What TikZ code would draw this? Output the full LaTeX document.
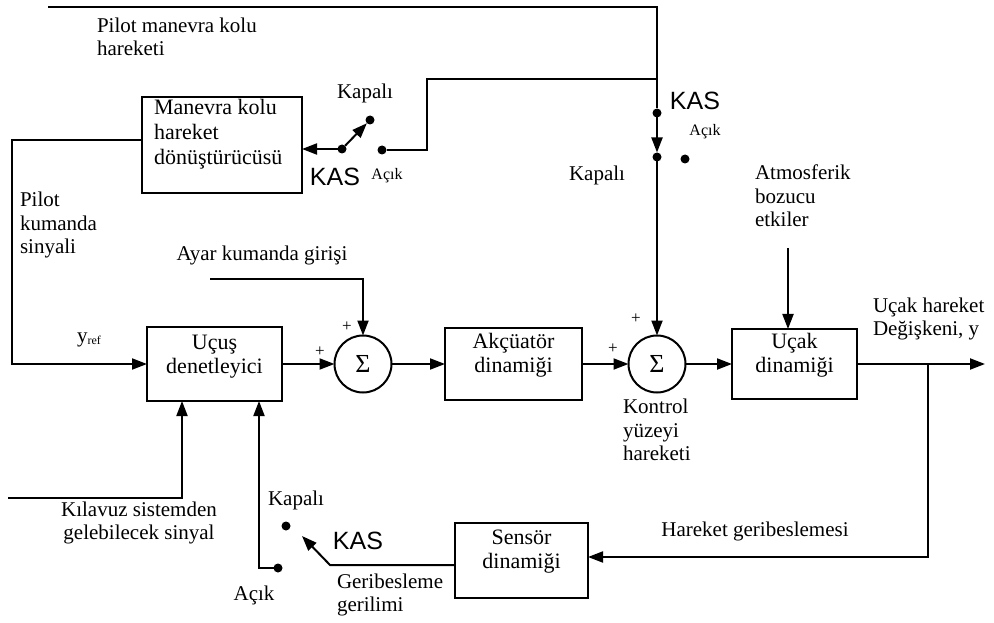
\documentclass[tikz,border=0pt]{standalone}
\usepackage{fontspec}
\setmainfont{Liberation Serif}
\newfontfamily\kasfont{Liberation Sans}
\usetikzlibrary{arrows.meta}
\begin{document}
\begin{tikzpicture}[x=1bp,y=-1bp,line width=2bp,
  every node/.style={inner sep=0pt, outer sep=0pt, font=\fontsize{21bp}{23.5bp}\selectfont},
  box/.style={draw, line width=2bp},
  boxtxt/.style={align=center, font=\fontsize{22bp}{24bp}\selectfont},
  sumn/.style={draw, circle, line width=2bp, minimum size=57bp, font=\fontsize{26bp}{26bp}\selectfont},
  dotn/.style={circle, fill, minimum size=9bp},
  arr/.style={-{Triangle[length=15bp,width=11bp]}},
  txt/.style={align=left, anchor=west},
  ctxt/.style={align=center},
  kaslbl/.style={font=\kasfont\fontsize{25bp}{25bp}\selectfont},
  smalltxt/.style={font=\fontsize{16bp}{16bp}\selectfont},
  plussign/.style={font=\fontsize{17bp}{17bp}\selectfont}]
\useasboundingbox (0,0) rectangle (994,623);

% blocks
\node[box, minimum width=160bp, minimum height=96bp] (man) at (222,145) {};
\node[box, minimum width=135bp, minimum height=74bp] (uc) at (214.5,364) {};
\node[sumn] (s1) at (363,364) {Σ};
\node[box, minimum width=137bp, minimum height=72bp] (ak) at (513.5,364) {};
\node[sumn] (s2) at (657,364) {Σ};
\node[box, minimum width=125bp, minimum height=70bp] (ucak) at (794.5,364) {};
\node[box, minimum width=133bp, minimum height=75bp] (sen) at (521.5,560.5) {};

% block texts
\node[boxtxt, align=left, anchor=west, font=\fontsize{22bp}{25bp}\selectfont] (mant) at (154,134) {Manevra kolu\\hareket\\dönüştürücüsü};
\node[boxtxt] (uct) at ([yshift=7bp]uc.center) {Uçuş\\denetleyici};
\node[boxtxt] (akt) at ([yshift=9bp]ak.center) {Akçüatör\\dinamiği};
\node[boxtxt] (ucakt) at ([yshift=9bp]ucak.center) {Uçak\\dinamiği};
\node[boxtxt] (sent) at ([yshift=9bp]sen.center) {Sensör\\dinamiği};

% switch contacts
\node[dotn] (t1) at (657,113) {};
\node[dotn] (t2) at (657,157) {};
\node[dotn] (t3) at (685,159) {};
\node[dotn] (lpv) at (342,149) {};
\node[dotn] (lkp) at (370,120) {};
\node[dotn] (lac) at (382,150) {};
\node[dotn] (bkp) at (286,526) {};
\node[dotn] (bac) at (278,568) {};

% helper coordinates
\coordinate (tl) at (48,7);
\coordinate (tr) at (657,7);
\coordinate (j1) at (657,79);
\coordinate (j1l) at (427,79);
\coordinate (ml) at (12,140);
\coordinate (yl) at (12,364);
\coordinate (ayar) at (210,279);
\coordinate (atm) at (788,248);
\coordinate (out) at (985,364);
\coordinate (br) at (928,364);
\coordinate (brd) at (928,557);
\coordinate (fbk) at (330,565);
\coordinate (fbtip) at (302,536);
\coordinate (bl) at (259,568);
\coordinate (kil) at (8,498);
\coordinate (kilr) at (182,498);

% connectors
\draw (tl) -- (tr) -- (t1);
\draw[arr] (t1) -- (t2);
\draw[arr] (t2) -- (s2);
\draw (j1) -- (j1l) -- (j1l |- lac) -- (lac);
\draw[arr] (lpv) -- (lkp);
\draw[arr] (lpv) -- (lpv -| man.east);
\draw[arr] (man.west |- ml) -- (ml) -- (yl) -- (uc.west);
\draw[arr] (uc) -- (s1);
\draw[arr] (ayar) -- (ayar -| s1) -- (s1);
\draw[arr] (s1) -- (ak);
\draw[arr] (ak) -- (s2);
\draw[arr] (s2) -- (ucak);
\draw[arr] (atm) -- (atm |- ucak.north);
\draw[arr] (ucak) -- (out);
\draw[arr] (br) -- (brd) -- (brd -| sen.east);
\draw[arr] (sen.west |- fbk) -- (fbk) -- (fbtip);
\draw[arr] (bac) -- (bl) -- (bl |- uc.south);
\draw[arr] (kil) -- (kilr) -- (kilr |- uc.south);

% labels
\node[txt] (lpilot) at (97,37) {Pilot manevra kolu\\hareketi};
\node[txt] (lpks) at (20,225) {Pilot\\kumanda\\sinyali};
\node (lyref) at (89,340) {y\raisebox{-2bp}{\fontsize{12bp}{12bp}\selectfont ref}};
\node (layar) at (262,255) {Ayar kumanda girişi};
\node[txt] (latm) at (755,196) {Atmosferik\\bozucu\\etkiler};
\node[txt] (lucak) at (873,319) {Uçak hareket\\Değişkeni, y};
\node[txt] (lkon) at (623,430) {Kontrol\\yüzeyi\\hareketi};
\node (lhar) at (755,531) {Hareket geribeslemesi};
\node[ctxt] (lkil) at (139,523) {Kılavuz sistemden\\gelebilecek sinyal};
\node[txt] (lger) at (337,595) {Geribesleme\\gerilimi};

\node (kap1) at (365,93) {Kapalı};
\node[kaslbl] (kas1) at (335,177) {KAS};
\node[smalltxt] (ac1) at (387,176) {Açık};
\node[kaslbl] (kas2) at (695,101) {KAS};
\node[smalltxt] (ac2) at (705,132) {Açık};
\node (kap2) at (597,175) {Kapalı};
\node (kap3) at (296,500) {Kapalı};
\node[kaslbl] (kas3) at (358,541) {KAS};
\node (ac3) at (254,595) {Açık};

\node[plussign] (p1) at (320,352) {+};
\node[plussign] (p2) at (347,327) {+};
\node[plussign] (p3) at (613,349) {+};
\node[plussign] (p4) at (636,319) {+};
\end{tikzpicture}
\end{document}
